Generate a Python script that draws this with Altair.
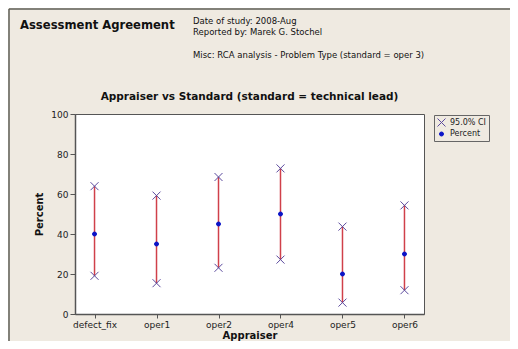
import altair as alt
import pandas as pd

appraisers = ["defect_fix", "oper1", "oper2", "oper4", "oper5", "oper6"]
percent = [40, 35, 45, 50, 20, 30]
ci_lower = [19.1, 15.4, 23.1, 27.2, 5.7, 11.9]
ci_upper = [63.9, 59.2, 68.5, 72.8, 43.7, 54.3]
series_names = ["95.0% CI", "Percent"]

header_title = "Assessment Agreement"
header_lines = ["Date of study: 2008-Aug", "Reported by: Marek G. Stochel",
                "Misc: RCA analysis - Problem Type (standard  = oper 3)"]
chart_title = "Appraiser vs Standard (standard = technical lead)"

FONT = "DejaVu Sans"
BG = "#EFEAE1"
X_PATH = "M-1,-1L1,1M-1,1L1,-1"

rows = []
for a, p, lo, hi in zip(appraisers, percent, ci_lower, ci_upper):
    rows.append({"Appraiser": a, "value": lo, "series": series_names[0]})
    rows.append({"Appraiser": a, "value": hi, "series": series_names[0]})
    rows.append({"Appraiser": a, "value": p, "series": series_names[1]})
pts = pd.DataFrame(rows)
ci = pd.DataFrame({"Appraiser": appraisers, "lower": ci_lower, "upper": ci_upper})
one = pd.DataFrame({"k": [0]})

xenc = alt.X("Appraiser:N", sort=appraisers,
             scale=alt.Scale(type="point", padding=0.315),
             axis=alt.Axis(title="Appraiser", labelAngle=0, tickSize=4,
                           labelPadding=2, titlePadding=1))
yscale = alt.Scale(domain=[0, 100], nice=False)
yaxis = alt.Axis(title="Percent", values=[0, 20, 40, 60, 80, 100], tickSize=5,
                 labelPadding=2, titlePadding=6, grid=False)

rules = alt.Chart(ci).mark_rule(color="#D0404A", strokeWidth=1.5).encode(
    x=xenc,
    y=alt.Y("lower:Q", scale=yscale, axis=yaxis),
    y2="upper:Q",
)

points = alt.Chart(pts).mark_point(strokeWidth=1, opacity=1).encode(
    x=alt.X("Appraiser:N", sort=appraisers),
    y=alt.Y("value:Q", scale=yscale, axis=yaxis),
    shape=alt.Shape("series:N", scale=alt.Scale(domain=series_names, range=[X_PATH, "circle"]),
                    legend=alt.Legend(title=None)),
    stroke=alt.Stroke("series:N", scale=alt.Scale(domain=series_names, range=["#5B4A9E", "#0A14C8"]),
                      legend=alt.Legend(title=None)),
    fill=alt.Fill("series:N", scale=alt.Scale(domain=series_names, range=["transparent", "#0A14C8"]),
                  legend=alt.Legend(title=None)),
    size=alt.Size("series:N", scale=alt.Scale(domain=series_names, range=[64, 16]),
                  legend=alt.Legend(title=None)),
)


def label(text, x, y, size=8.5, weight="normal", align="left"):
    return alt.Chart(one).mark_text(
        text=text, font=FONT, fontSize=size, fontWeight=weight, align=align,
        baseline="alphabetic", color="#111111",
    ).encode(x=alt.value(x), y=alt.value(y))


border_top = alt.Chart(one).mark_rule(color="#5E5E56", strokeWidth=1.5).encode(
    x=alt.value(-66), x2=alt.value(450), y=alt.value(-105))
border_left = alt.Chart(one).mark_rule(color="#5E5E56", strokeWidth=1.5).encode(
    x=alt.value(-66), y=alt.value(-105), y2=alt.value(240))

texts = [
    label(header_title, -55, -85, size=11.6, weight="bold"),
    label(header_lines[0], 118, -90),
    label(header_lines[1], 118, -79),
    label(header_lines[2], 118, -56),
    label(chart_title, 174.5, -14, size=10.5, weight="bold", align="center"),
]

chart = alt.layer(border_top, border_left, rules, points, *texts).properties(
    width=349, height=200,
    autosize=alt.AutoSizeParams(type="none"),
    padding={"left": 67, "top": 106, "right": 86, "bottom": 27},
).configure(background=BG).configure_view(
    fill="white", stroke="#555555", strokeWidth=1
).configure_axis(
    labelFont=FONT, labelFontSize=9, labelColor="#222222",
    titleFont=FONT, titleFontSize=10, titleFontWeight="bold", titleColor="#111111",
    domainColor="#555555", tickColor="#555555", domainWidth=1.5,
).configure_legend(
    orient="none", legendX=359, legendY=1, labelFont=FONT, labelFontSize=8,
    labelColor="#222222", strokeColor="#666666", fillColor=BG, padding=3,
    rowPadding=1, symbolStrokeWidth=1, labelOffset=4,
)

chart.save("out.html", embed_options={"renderer": "svg", "actions": False})
